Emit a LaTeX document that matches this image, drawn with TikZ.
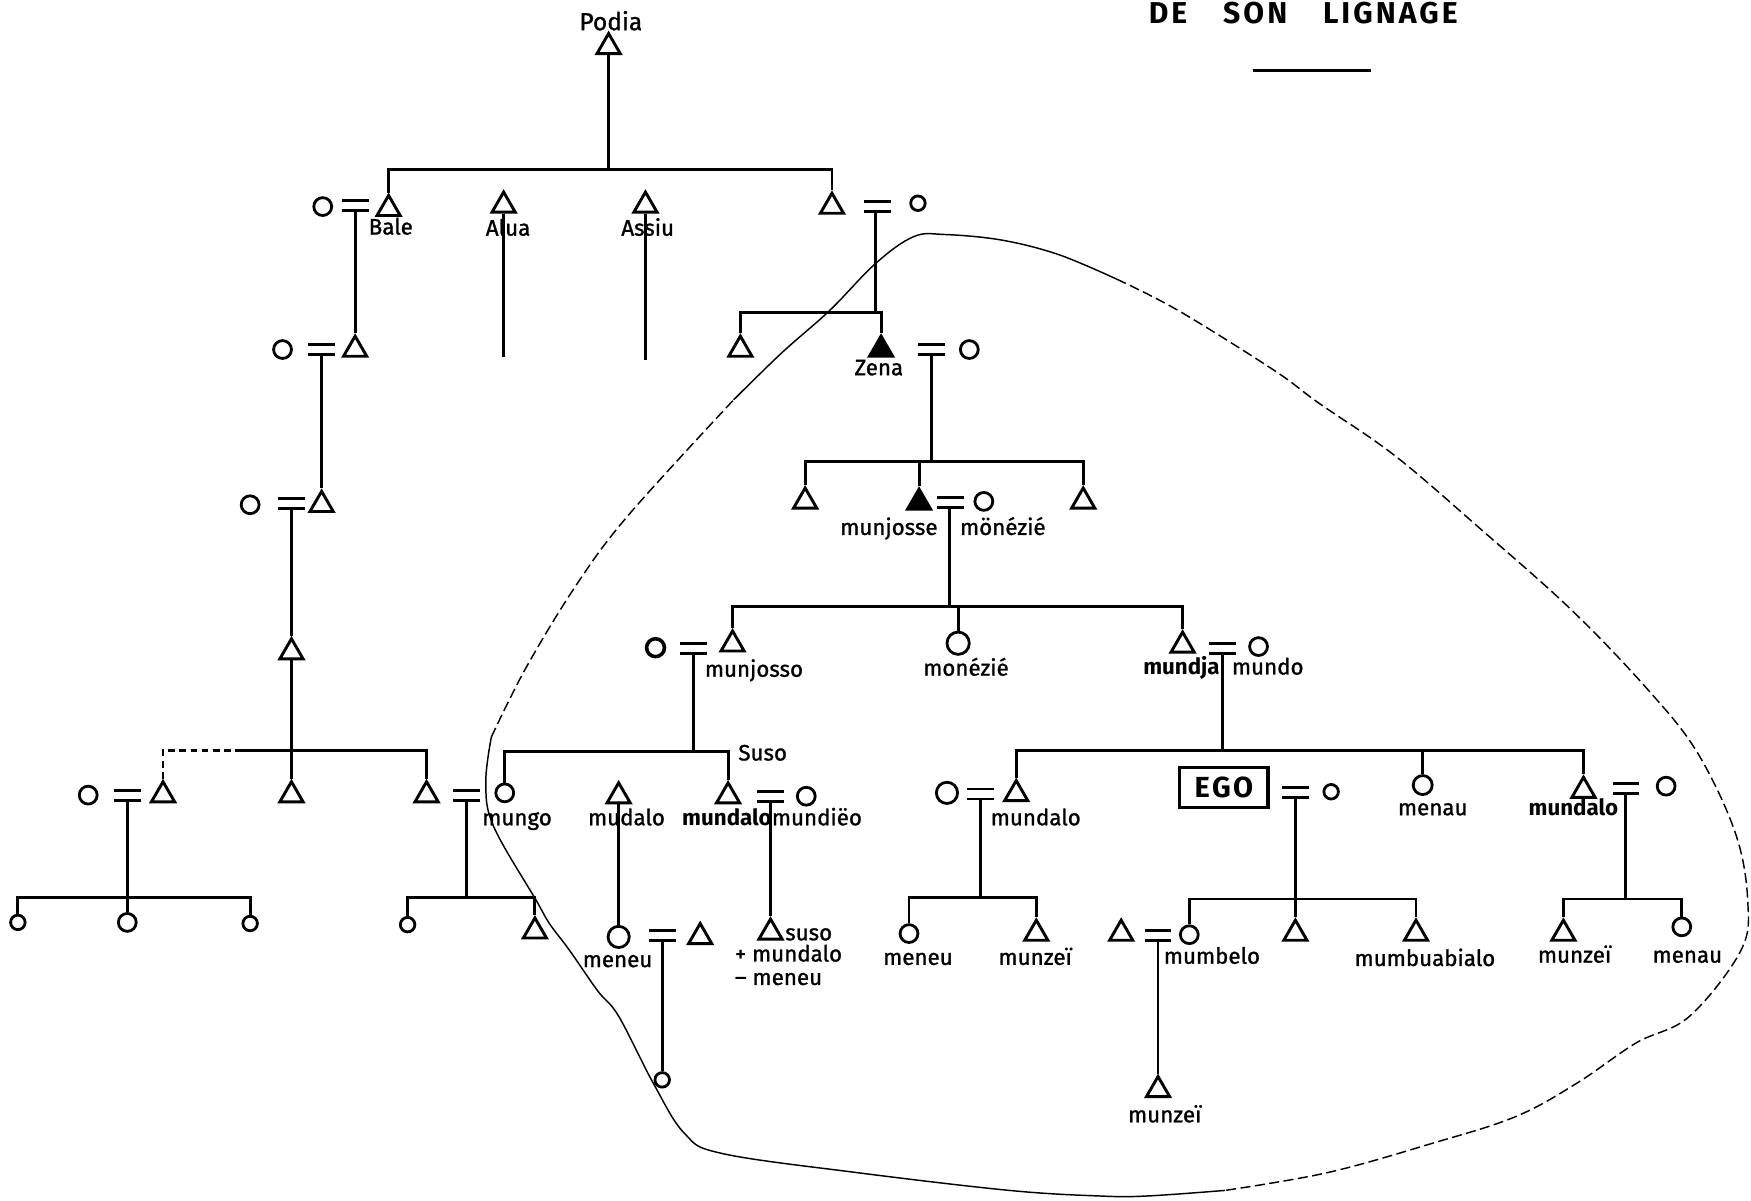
\documentclass[tikz,border=0pt]{standalone}
\usepackage{fontspec}
\setmainfont{Fira Sans}
\newfontfamily\labfont[FakeBold=1.2]{Fira Sans}
\newfontfamily\titlefont[LetterSpace=10]{Fira Sans}
\usetikzlibrary{shapes.geometric}
\begin{document}
\begin{tikzpicture}[x=1pt,y=-1pt,
  ln/.style={draw,line width=2.6pt},
  tri/.style={regular polygon,regular polygon sides=3,minimum size=24pt,inner sep=0pt,draw,line width=2.6pt},
  trif/.style={tri,fill=black},
  cir/.style={circle,minimum size=16pt,inner sep=0pt,draw,line width=2.5pt},
  cirL/.style={cir,minimum size=19pt},
  cirS/.style={cir,minimum size=13pt},
  eq/.style={minimum width=24pt,minimum height=9pt,inner sep=0pt,outer sep=0pt,
    append after command={(\tikzlastnode.north west) edge[ln] (\tikzlastnode.north east)
                          (\tikzlastnode.south west) edge[ln] (\tikzlastnode.south east)}},
  lab/.style={anchor=base,inner sep=0pt,font=\labfont\fontsize{20}{24}\selectfont},
  labw/.style={lab,anchor=base west},
  labb/.style={lab,font=\fontsize{20}{24}\selectfont\bfseries},
  ttl/.style={anchor=base,inner sep=0pt,font=\titlefont\bfseries\fontsize{27}{30}\selectfont},
  curve/.style={draw,line width=1.3pt},
  dcurve/.style={curve,dash pattern=on 9pt off 4pt}
]
\useasboundingbox (0,0) rectangle (1568,1075);

% ---------- title ----------
\node[ttl] (tDE) at (1046,21) {DE};
\node[ttl] (tSON) at (1124,21) {SON};
\node[ttl] (tLIG) at (1245,21) {LIGNAGE};
\coordinate (u1) at (1122,63);
\coordinate (u2) at (1228,63);
\draw[line width=3pt] (u1) -- (u2);

% ---------- generation 0 ----------
\node[tri] (P) at (545,42) {};
\node[lab,font=\labfont\fontsize{22}{26}\selectfont] (tPodia) at (547,27) {Podia};

% ---------- generation 1 ----------
\node[cir] (o1a) at (289,185) {};
\node[eq] (m1a) at (318,184) {};
\node[tri] (Bale) at (348,187) {};
\node[tri] (Alua) at (451,184) {};
\node[tri] (Assiu) at (578,184) {};
\node[tri] (D1r) at (745,185) {};
\node[eq] (m1r) at (786,185) {};
\node[cirS] (o1r) at (822,182) {};
\node[labw] (tBale) at (330,210) {Bale};
\node[lab] (tAlua) at (455,211) {Alua};
\node[lab] (tAssiu) at (580,211) {Assiu};

\coordinate (j1) at (545,152);
\draw[ln] (P.south) -- (j1);
\draw[ln] (Bale.north) |- (j1) -| (D1r.north);
\coordinate (eAlua) at (451,320);
\coordinate (eAssiu) at (578,322);
\draw[ln] (Alua.south) -- (eAlua);
\draw[ln] (Assiu.south) -- (eAssiu);

% ---------- generation 2 ----------
\node[cir] (o2a) at (253,313) {};
\node[eq] (m2a) at (288,313) {};
\node[tri] (D2a) at (318,313) {};
\node[tri] (D2b) at (663,313) {};
\node[trif] (Zena) at (789,313) {};
\node[eq] (mZ) at (834,313) {};
\node[cir] (o2b) at (868,313) {};
\node[lab] (tZena) at (787,336) {Zena};

\draw[ln] (m1a.south) -- (D2a.north);
\coordinate (j2) at (784,280);
\draw[ln] (m1r.south -| j2) -- (j2);
\draw[ln] (D2b.north) |- (j2) -| (Zena.north);

% ---------- generation 3 ----------
\node[cir] (o3a) at (224,452) {};
\node[eq] (m3a) at (261,451) {};
\node[tri] (D3a) at (288,452) {};
\node[tri] (D3b) at (721,449) {};
\node[trif] (Mjse) at (823,450) {};
\node[eq] (mMj) at (851,450) {};
\node[cir] (o3b) at (881,449) {};
\node[tri] (D3d) at (970,449) {};
\node[lab] (tMjse) at (796,479) {munjosse};
\node[lab] (tMnz1) at (898,479) {mönézié};

\draw[ln] (m2a.south) -- (D3a.north);
\coordinate (j3) at (834,413);
\draw[ln] (mZ.south) -- (j3);
\draw[ln] (D3b.north) |- (j3) -| (D3d.north);
\draw[ln] (Mjse.north) -- (Mjse.north |- j3);

% ---------- generation 4 ----------
\node[tri] (D4a) at (261,584) {};
\node[cir,line width=3.2pt] (o4a) at (587,580) {};
\node[eq] (m4a) at (621,581) {};
\node[tri] (Mjso) at (656,577) {};
\node[cirL,minimum size=20pt] (Monezie) at (858,576) {};
\node[tri] (Mundja) at (1059,578) {};
\node[eq] (m4c) at (1095,581) {};
\node[cir] (Mundo) at (1127,579) {};
\node[labw] (tMjso) at (631,606) {munjosso};
\node[lab] (tMnz2) at (865,605) {monézié};
\node[labb] (tMundja) at (1058,604) {mundja};
\node[labw] (tMundo) at (1103,604) {mundo};
\node[labw] (tSuso1) at (661,681) {Suso};

\draw[ln] (m3a.south) -- (D4a.north);
\coordinate (j4) at (850,543);
\draw[ln] (mMj.south -| j4) -- (j4);
\draw[ln] (Mjso.north) |- (j4) -| (Mundja.north);
\draw[ln] (Monezie.north) -- (Monezie.north |- j4);

% ---------- generation 5 ----------
\node[cir] (o5a) at (79,712) {};
\node[eq] (m5a) at (114,712) {};
\node[tri] (D5a) at (146,712) {};
\node[tri] (D5b) at (261,712) {};
\node[tri] (D5c) at (382,712) {};
\node[eq] (m5c) at (418,712) {};
\node[cir] (Mungo) at (452,710) {};
\node[tri] (Mudalo) at (554,713) {};
\node[tri] (MundaloM) at (652,713) {};
\node[eq] (m5m) at (690,713) {};
\node[cir] (Mundieo) at (722,713) {};
\node[cirL] (o5r) at (848,710) {};
\node[eq] (m5r) at (878,711) {};
\node[tri] (MundaloR1) at (910,711) {};
\node[draw,line width=2.8pt,minimum width=79pt,minimum height=36pt,inner sep=0pt,
      font=\fontsize{26}{30}\selectfont\bfseries] (ego) at (1096,705) {E\kern2pt G\kern2pt O};
\node[eq] (mEGO) at (1160,710) {};
\node[cirS] (oEGO) at (1192,709) {};
\node[cir,minimum size=17pt] (Menau) at (1274,703) {};
\node[tri] (MundaloR2) at (1418,708) {};
\node[eq] (m5r2) at (1456,706) {};
\node[cir] (o5r2) at (1492,704) {};

\node[lab] (tMungo) at (463,739) {mungo};
\node[lab] (tMudalo) at (561,739) {mudalo};
\node[labb] (tMundaloM) at (651,739) {mundalo};
\node[labw] (tMundieo) at (691,739) {mundiëo};
\node[labw] (tMundaloR1) at (887,739) {mundalo};
\node[lab] (tMenau) at (1283,730) {menau};
\node[labb] (tMundaloR2) at (1409,730) {mundalo};

% left lineage sibling bar
\coordinate (jLd) at (213,672);
\draw[ln] (D4a.south) -- (D5b.north);
\draw[ln] (jLd) -| (D5c.north);
\draw[ln,dash pattern=on 6pt off 4pt] (D5a.north) |- (jLd);
% middle sibling bar
\coordinate (j5) at (621,673);
\draw[ln] (m4a.south) -- (j5);
\draw[ln] (Mungo.north) |- (j5) -| (MundaloM.north);
% right sibling bar
\coordinate (j6) at (1095,672);
\draw[ln] (m4c.south) -- (j6);
\draw[ln] (MundaloR1.north) |- (j6) -| (MundaloR2.north);
\draw[ln] (Menau.north) -- (Menau.north |- j6);

% ---------- generation 6 ----------
\node[cirS] (c6a) at (16,826) {};
\node[cir] (c6b) at (114,826) {};
\node[cirS] (c6c) at (224,827) {};
\node[cirS] (c6d) at (365,828) {};
\node[cirL] (Meneu1) at (554,839) {};
\node[eq] (m6a) at (593,838) {};
\node[tri] (D6f) at (627,839) {};
\node[tri] (D6e) at (479,834) {};
\node[tri] (Suso) at (690,835) {};
\node[cir] (Meneu2) at (814,836) {};
\node[tri] (Munzei1) at (928,836) {};
\node[tri] (D6g) at (1004,836) {};
\node[eq] (m6b) at (1037,838) {};
\node[cir] (Mumbelo) at (1065,837) {};
\node[tri] (D6h) at (1160,836) {};
\node[tri] (Mumbuabialo) at (1268,836) {};
\node[tri] (Munzei3) at (1400,836) {};
\node[cir] (Menau2) at (1506,830) {};

\node[lab] (tMeneu1) at (553,866) {meneu};
\node[labw] (tSuso2) at (703,842) {suso};
\node[labw] (tPlus) at (658,861) {+ mundalo};
\node[labw] (tMinus) at (658,882) {– meneu};
\node[lab] (tMeneu2) at (822,864) {meneu};
\node[lab] (tMunzei1) at (927,864) {munzeï};
\node[labw] (tMumbelo) at (1042,863) {mumbelo};
\node[lab] (tMumb) at (1276,865) {mumbuabialo};
\node[lab] (tMunzei3) at (1410,862) {munzeï};
\node[lab] (tMenau2) at (1511,862) {menau};

\draw[ln] (m5a.south) -- (c6b.north);
\coordinate (j7) at (114,804);
\draw[ln] (c6a.north) |- (j7) -| (c6c.north);
\coordinate (j8) at (418,804);
\draw[ln] (m5c.south) -- (j8);
\draw[ln] (c6d.north) |- (j8) -| (D6e.north);
\draw[ln] (Mudalo.south) -- (Meneu1.north);
\draw[ln] (m5m.south) -- (Suso.north);
\coordinate (j9) at (878,804);
\draw[ln] (m5r.south) -- (j9);
\draw[ln] (Meneu2.north) |- (j9) -| (Munzei1.north);
\draw[ln] (mEGO.south) -- (D6h.north);
\coordinate (j10) at (1160,805);
\draw[ln] (Mumbelo.north) |- (j10) -| (Mumbuabialo.north);
\coordinate (j11) at (1456,805);
\draw[ln] (m5r2.south) -- (j11);
\draw[ln] (Munzei3.north) |- (j11) -| (Menau2.north);

% ---------- generation 7 ----------
\node[cirS] (c7a) at (593,967) {};
\node[tri] (Munzei2) at (1037,976) {};
\node[lab] (tMunzei2) at (1043,1005) {munzeï};
\draw[ln] (m6a.south) -- (c7a.north);
\draw[ln] (m6b.south) -- (Munzei2.north);

% ---------- enclosing curve ----------
\draw[curve] plot[smooth,tension=0.6] coordinates {(657,358) (700,316) (743,278) (784,236) (818,212) (846,210) (897,215) (948,228) (1000,250)};
\draw[dcurve] plot[smooth,tension=0.6] coordinates {(1000,250) (1055,278) (1140,331) (1181,361) (1249,408) (1325,473) (1407,546) (1476,618) (1520,674) (1554,746) (1565,806) (1559,851) (1513,910) (1465,934) (1412,970) (1357,1000) (1282,1024) (1189,1050) (1097,1066)};
\draw[curve] plot[smooth,tension=0.6] coordinates {(1097,1066) (1027,1071) (985,1071) (904,1066) (767,1050) (647,1033) (613,1015) (585,970) (554,910) (535,887) (510,851) (492,827) (480,806) (442,740) (435,701) (440,660)};
\draw[dcurve] plot[smooth,tension=0.6] coordinates {(440,660) (471,598) (516,524) (563,461) (657,358)};
\end{tikzpicture}
\end{document}
